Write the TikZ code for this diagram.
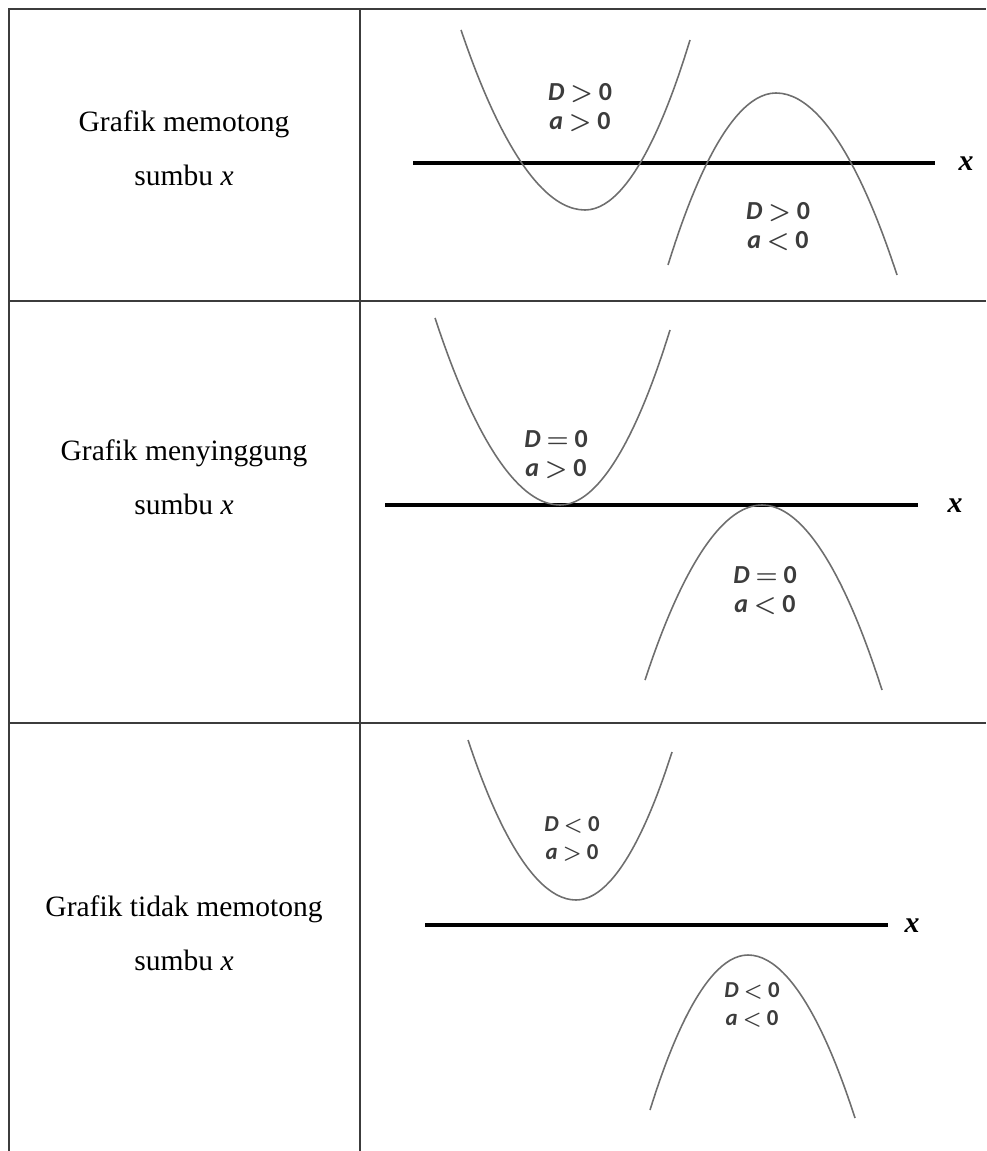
\documentclass[tikz,border=0pt]{standalone}
\usepackage{fontspec}
\setmainfont{Liberation Serif}
\newfontfamily\lblfont{Carlito}
\usetikzlibrary{positioning}
\definecolor{rulegray}{RGB}{60,60,60}
\definecolor{curvegray}{RGB}{110,110,110}
\definecolor{lblgray}{RGB}{60,60,60}

\begin{document}
\begin{tikzpicture}[x=0.02cm,y=-0.02cm,
          grid/.style={draw=rulegray,line width=1.2pt},
          axis/.style={draw=black,line width=2pt},
          curve/.style={draw=curvegray,line width=0.9pt},
          rowtext/.style={align=center,inner sep=0pt,
                          font=\fontsize{16.8}{31}\selectfont},
          lbl/.style={align=center,inner sep=0pt,text=lblgray,
                      font=\lblfont\bfseries\boldmath\fontsize{14.8}{16.5}\selectfont},
          smalllbl/.style={lbl,font=\lblfont\bfseries\boldmath\fontsize{13}{15.5}\selectfont},
          xlbl/.style={inner sep=0pt,font=\fontsize{17}{18}\selectfont\bfseries\itshape}]
        \useasboundingbox (0,0) rectangle (986,1151);
        % table
        \draw[grid] (9,1151) -- (9,9) -- (986,9);
        \draw[grid] (360,9) -- (360,1151);
        \draw[grid] (9,301) -- (986,301);
        \draw[grid] (9,723) -- (986,723);
        % row 1
        \node[rowtext] (cut) at (184,148) {Grafik memotong\\sumbu \textit{x}};
        \draw[axis] (413,163) -- (935,163);
        \node[xlbl] (xcut) at (966,164) {x};
        \draw[curve] (461,30) parabola bend (585,210) (690,40);
        \draw[curve] (668,265) parabola bend (776,93) (897,275);
        \node[lbl] (cutup) at (580,108) {{\itshape D} $>$ 0\\{\itshape a} $>$ 0};
        \node[lbl] (cutdown) at (778,227) {{\itshape D} $>$ 0\\{\itshape a} $<$ 0};
        % row 2
        \node[rowtext] (touch) at (184,477) {Grafik menyinggung\\sumbu \textit{x}};
        \draw[axis] (385,505) -- (918,505);
        \node[xlbl] (xtouch) at (955,506) {x};
        \draw[curve] (435,318) parabola bend (560,505) (670,330);
        \draw[curve] (645,680) parabola bend (762,505) (882,690);
        \node[lbl] (touchup) at (556,455) {{\itshape D} $=$ 0\\{\itshape a} $>$ 0};
        \node[lbl] (touchdown) at (765,591) {{\itshape D} $=$ 0\\{\itshape a} $<$ 0};
        % row 3
        \node[rowtext] (nocut) at (184,933) {Grafik tidak memotong\\sumbu \textit{x}};
        \draw[axis] (425,925) -- (888,925);
        \node[xlbl] (xnocut) at (912,926) {x};
        \draw[curve] (468,740) parabola bend (576,900) (672,752);
        \draw[curve] (650,1110) parabola bend (748,955) (855,1118);
        \node[smalllbl] (nocutup) at (572,839) {{\itshape D} $<$ 0\\{\itshape a} $>$ 0};
        \node[smalllbl] (nocutdown) at (752,1005) {{\itshape D} $<$ 0\\{\itshape a} $<$ 0};
      \end{tikzpicture}
\end{document}
